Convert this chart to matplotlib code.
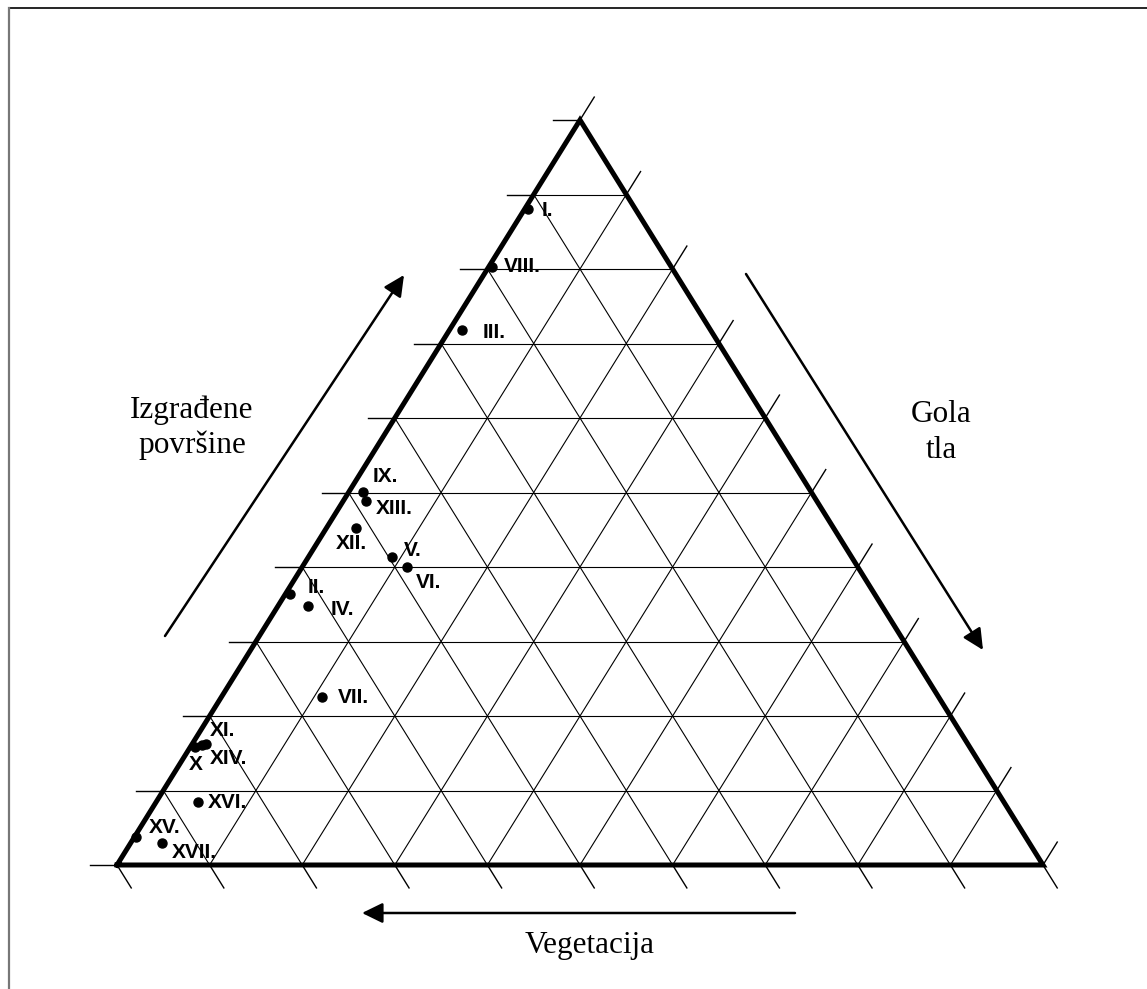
import numpy as np
import matplotlib
matplotlib.use("Agg")
import matplotlib.pyplot as plt

# sample sites: share of built-up area and bare soil (%), vegetation is the rest
sites = ["I.", "VIII.", "III.", "IX.", "XIII.", "XII.", "V.", "VI.", "II.",
         "IV.", "VII.", "XI.", "X", "XIV.", "XVI.", "XV.", "XVII."]
built = [88.1, 80.3, 71.8, 50.1, 48.9, 45.2, 41.4, 40.0, 36.4,
         34.7, 22.5, 16.3, 15.9, 16.1, 8.5, 3.8, 2.9]
bare = [0.3, 0.4, 1.4, 1.5, 2.4, 3.2, 9.0, 11.3, 0.5,
        3.3, 10.9, 1.5, 0.5, 1.1, 4.5, 0.2, 3.4]

# label offsets in pixels (dx, dy) relative to the dot
label_off = [(14, 2), (11, 0), (20, 2), (10, -15), (10, 8), (-20, 15), (12, -6),
             (9, 16), (17, -6), (22, 3), (16, 0), (3, -13), (-6, 18), (8, 13),
             (10, 1), (12, -9), (10, 9)]

W, H = 1147, 989
L = np.array([117.0, 865.0])   # 100 % vegetation
R = np.array([1043.0, 865.0])  # 100 % bare soil
T = np.array([580.0, 120.0])   # 100 % built-up


def tern(a, b):
    """a = built fraction, b = bare fraction -> pixel coords"""
    c = 1.0 - a - b
    return c * L + b * R + a * T


fig = plt.figure(figsize=(W / 100, H / 100), dpi=100)
ax = fig.add_axes([0, 0, 1, 1])
ax.set_xlim(0, W)
ax.set_ylim(H, 0)
ax.axis("off")

# page frame (top and left visible)
ax.plot([9, W], [8, 8], color="black", lw=1.2)
ax.plot([9, 9], [8, H], color="#777777", lw=1.6)

tick_len = 27.0
up_right = (T - L) / np.linalg.norm(T - L)
down_right = (R - T) / np.linalg.norm(R - T)

for k in range(11):
    f = k / 10.0
    # constant built-up: horizontal line, tick on the left
    p0, p1 = tern(f, 0.0), tern(f, 1.0 - f)
    if 0 < k < 10:
        ax.plot([p0[0], p1[0]], [p0[1], p1[1]], color="black", lw=0.8)
    ax.plot([p0[0] - tick_len, p0[0]], [p0[1], p0[1]], color="black", lw=1.0)
    # constant bare soil: from base to right edge, tick at right edge
    q0, q1 = tern(0.0, f), tern(1.0 - f, f)
    if 0 < k < 10:
        ax.plot([q0[0], q1[0]], [q0[1], q1[1]], color="black", lw=0.8)
    e = q1 + up_right * tick_len
    ax.plot([q1[0], e[0]], [q1[1], e[1]], color="black", lw=1.0)
    # constant vegetation: from base to left edge, tick below base
    r0, r1 = tern(0.0, 1.0 - f), tern(1.0 - f, 0.0)
    if 0 < k < 10:
        ax.plot([r0[0], r1[0]], [r0[1], r1[1]], color="black", lw=0.8)
    e = r0 + down_right * tick_len
    ax.plot([r0[0], e[0]], [r0[1], e[1]], color="black", lw=1.0)

tri = np.array([L, R, T, L])
ax.plot(tri[:, 0], tri[:, 1], color="black", lw=3.6, solid_joinstyle="miter")

# sample points
pts = np.array([tern(a / 100.0, b / 100.0) for a, b in zip(built, bare)])
ax.plot(pts[:, 0], pts[:, 1], "o", color="black", ms=6.5, zorder=5)
for name, (x, y), (dx, dy) in zip(sites, pts, label_off):
    ax.text(x + dx, y + dy, name, ha="left", va="center",
            fontsize=15, fontweight="bold", family="Liberation Sans")

# axis arrows
aprops = dict(arrowstyle="-|>,head_length=0.45,head_width=0.22", color="black",
              lw=1.8, mutation_scale=28, shrinkA=0, shrinkB=0)
ax.annotate("", xy=(404, 275), xytext=(165, 636), arrowprops=aprops)
ax.annotate("", xy=(983, 650), xytext=(746, 274), arrowprops=aprops)
ax.annotate("", xy=(362, 913), xytext=(795, 913), arrowprops=aprops)

serif = dict(family="Liberation Serif", fontsize=22.5, ha="center", va="baseline")
ax.text(192, 418, "Izgrađene", **serif)
ax.text(192, 453, "površine", **serif)
ax.text(941, 422, "Gola", **serif)
ax.text(941, 458, "tla", **serif)
ax.text(590, 953, "Vegetacija", **serif)

fig.savefig("out.png", dpi=100)
